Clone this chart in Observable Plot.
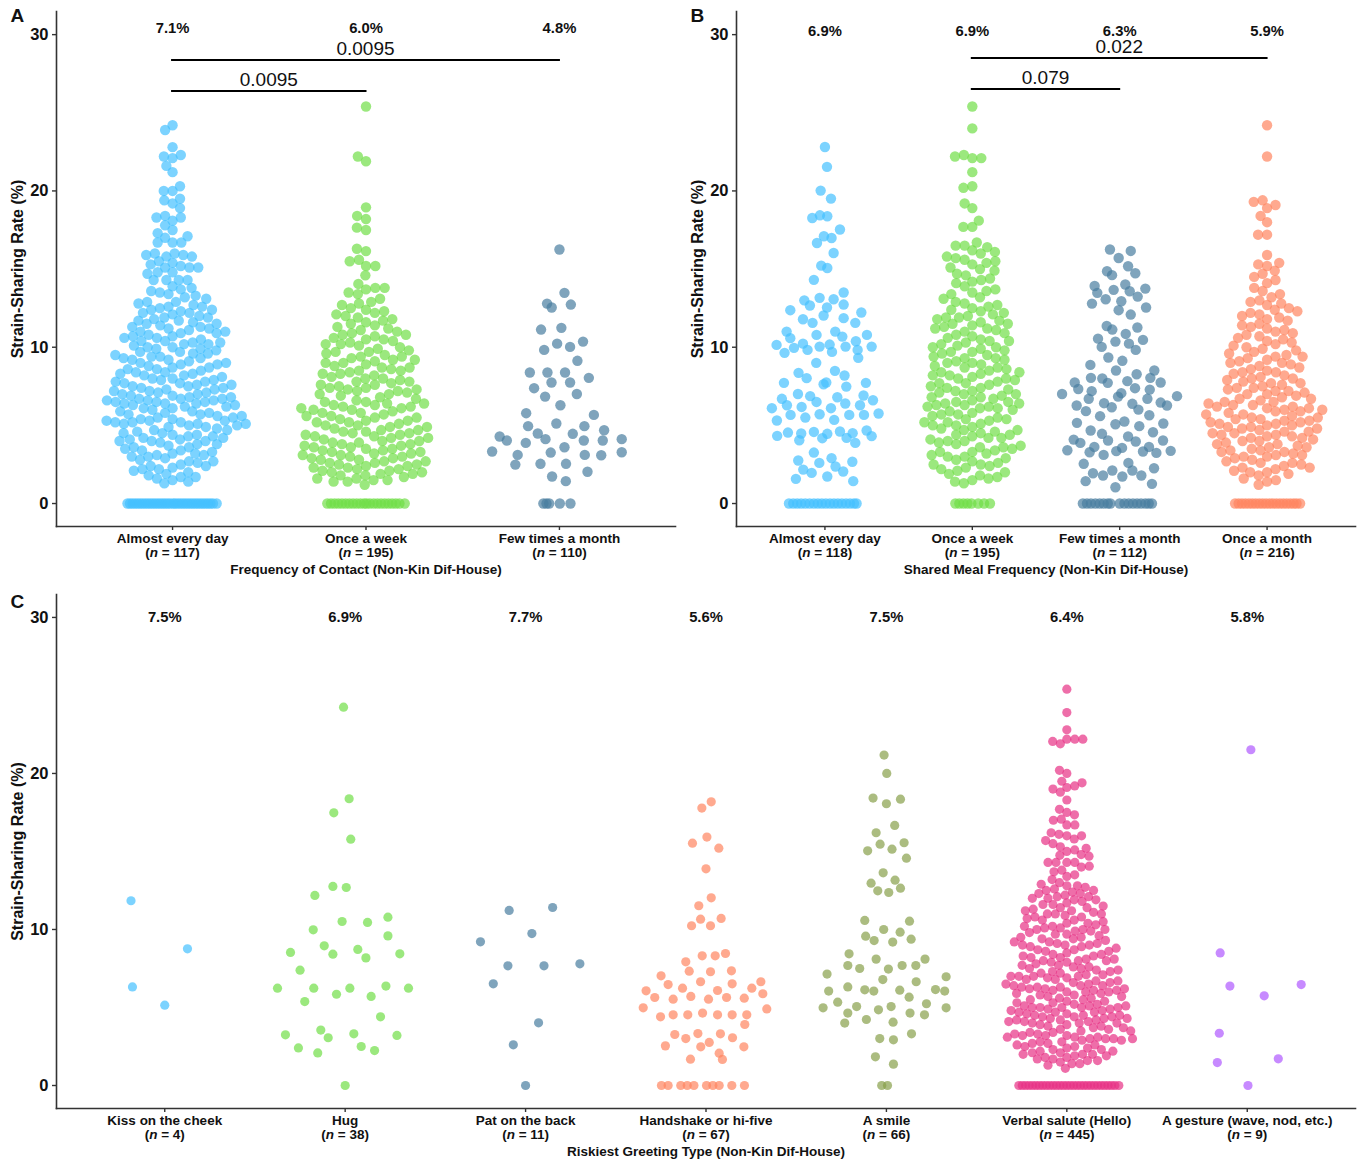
<!DOCTYPE html>
<html><head><meta charset="utf-8">
<script src="https://cdn.jsdelivr.net/npm/d3@7"></script>
<script src="https://cdn.jsdelivr.net/npm/@observablehq/plot@0.6"></script>
<style>html,body{margin:0;padding:0;background:#fff}svg{position:absolute;overflow:visible}</style>
</head><body>
<script>
// ---------- labels ----------
const catsA=["Almost every day","Once a week","Few times a month"];
const nA=[117,195,110];
const pctA=["7.1%","6.0%","4.8%"];
const catsB=["Almost every day","Once a week","Few times a month","Once a month"];
const nB=[118,195,112,216];
const pctB=["6.9%","6.9%","6.3%","5.9%"];
const catsC=["Kiss on the cheek","Hug","Pat on the back","Handshake or hi-five","A smile","Verbal salute (Hello)","A gesture (wave, nod, etc.)"];
const nC=[4,38,11,67,66,445,9];
const pctC=["7.5%","6.9%","7.7%","5.6%","7.5%","6.4%","5.8%"];

// ---------- dense groups: strain-sharing rates (swarmed by the library) ----------
const aDaily=[24.2,23.9,22.8,22.3,22.2,22.1,21.6,21.2,20.3,20,20,19.5,19.4,19.2,18.9,18.4,18.3,18.3,18.1,17.8,17.5,17.3,17.1,17,16.7,16.7,16.7,16,16,15.9,15.9,15.8,15.8,15.5,15.4,15.3,15.2,15.1,15.1,15.1,14.8,14.8,14.7,14.3,14.3,14.3,14.3,
13.9,13.8,13.7,13.6,13.5,13.4,13.3,13.2,13.1,
12.9,12.9,12.8,12.7,12.6,12.6,12.5,12.4,12.4,12.3,12.2,12.2,12.1,12,
11.9,11.9,11.8,11.7,11.7,11.6,11.5,11.5,11.4,11.3,11.3,11.2,11.2,11.1,11,11,
10.9,10.9,10.8,10.7,10.7,10.6,10.6,10.5,10.4,10.4,10.3,10.3,10.2,10.2,10.1,10,10,
9.9,9.9,9.8,9.7,9.7,9.6,9.6,9.5,9.4,9.4,9.3,9.3,9.2,9.2,9.1,9,9,
8.9,8.9,8.8,8.7,8.7,8.6,8.6,8.5,8.4,8.4,8.3,8.3,8.2,8.2,8.1,8,8,
7.9,7.9,7.8,7.8,7.7,7.7,7.6,7.6,7.5,7.5,7.4,7.4,7.3,7.3,7.2,7.2,7.1,7.1,7,7,
6.9,6.9,6.8,6.8,6.7,6.7,6.7,6.6,6.6,6.6,6.5,6.5,6.5,6.4,6.4,6.4,6.3,6.3,6.2,6.2,6.1,6.1,6,
5.9,5.9,5.8,5.8,5.7,5.7,5.6,5.6,5.5,5.5,5.4,5.4,5.3,5.3,5.3,5.2,5.2,5.2,5.1,5.1,5.1,5,5,
4.9,4.9,4.8,4.7,4.7,4.6,4.5,4.5,4.4,4.4,4.3,4.3,4.2,4.2,4.1,4.1,4,4,4,
3.9,3.8,3.8,3.7,3.6,3.6,3.5,3.4,3.4,3.3,3.2,3.2,3.1,3.1,3,3,
2.9,2.8,2.7,2.7,2.6,2.5,2.4,2.4,2.3,2.2,2.2,2.1,2,
1.9,1.8,1.7,1.7,1.6,1.5,1.4,1.3];
const aDailyZeroX=[-.233,-.22,-.207,-.194,-.181,-.168,-.155,-.142,-.129,-.116,-.103,-.09,-.077,-.064,-.051,-.038,-.025,-.012,.003,.014,.027,.04,.053,.066,.079,.092,.105,.118,.131,.144,.157,.17,.183,.196,.209,.228];

const aWeekly=[25.4,22.2,21.9,18.95,18.4,18.2,17.65,17.5,16.3,16.15,15.6,15.5,15.2,15.2,14.6,14.05,13.8,13.8,13.7,13.5,13.4,13.1,
12.9,12.8,12.7,12.5,12.4,12.3,12.2,12.1,12,
11.9,11.8,11.7,11.6,11.5,11.4,11.3,11.2,11.1,11,
10.9,10.8,10.8,10.7,10.6,10.5,10.5,10.4,10.3,10.2,10.2,10.1,10,
9.9,9.8,9.7,9.7,9.6,9.5,9.4,9.4,9.3,9.2,9.2,9.1,9,9,
8.9,8.8,8.7,8.7,8.6,8.5,8.5,8.4,8.3,8.3,8.2,8.1,8,8,
7.9,7.8,7.8,7.7,7.6,7.6,7.5,7.4,7.4,7.3,7.3,7.2,7.2,7.1,7,7,
6.9,6.8,6.7,6.6,
6.5,6.5,6.4,6.4,6.3,6.3,6.2,6.2,6.1,6.1,6,6,
5.9,5.8,5.8,5.7,5.6,5.6,5.5,5.5,5.4,5.3,5.3,5.2,5.2,5.1,5,5,
4.9,4.9,4.8,4.7,4.7,4.6,4.6,4.5,4.5,4.4,4.4,4.3,4.3,4.2,4.2,4.1,4,4,
3.9,3.9,3.8,3.8,3.7,3.7,3.6,3.6,3.5,3.5,3.4,3.4,3.3,3.3,3.2,3.2,3.1,3.1,3,3,
2.9,2.9,2.8,2.8,2.7,2.7,2.6,2.6,2.5,2.5,2.4,2.4,2.3,2.3,2.2,2.2,2.1,2.1,2,2,
1.9,1.9,1.8,1.8,1.7,1.6,1.6,1.5,1.5,1.4,1.4,1.2];
const aWeeklyZeroX=[-.2,-.181,-.162,-.143,-.124,-.105,-.086,-.067,-.048,-.029,-.01,.003,.02,.04,.059,.078,.097,.116,.135,.154,.173,.2];

const bWeekly=[25.4,24,22.3,22.2,22.1,22.1,21.2,20.3,20.2,19.2,18.9,18.1,17.7,17.7,16.7,16.5,16.5,
16.4,16.2,16.1,16,15.8,15.7,15.6,15.5,15.4,15.3,15.1,15,
14.9,14.7,14.6,14.4,14.3,14.2,14.1,
13.9,13.7,13.6,13.5,13.4,13.2,13.1,
12.9,12.8,12.7,12.6,12.5,12.4,12.3,12.2,12.1,12,
11.9,11.9,11.8,11.7,11.6,11.5,11.5,11.4,11.3,11.2,11.2,11.1,11,
10.9,10.8,10.7,10.6,10.5,10.4,10.4,10.3,10.2,10.1,10,10,
9.9,9.8,9.7,9.7,9.6,9.5,9.4,9.3,9.3,9.2,9.1,9,9,
8.9,8.8,8.7,8.7,8.6,8.5,8.4,8.4,8.3,8.2,8.2,8.1,8,8,
7.9,7.8,7.7,7.7,7.6,7.5,7.4,7.4,7.3,7.2,7.2,7.1,7,7,
6.9,6.8,6.8,6.7,6.6,6.5,6.5,6.4,6.4,6.3,6.3,6.2,6.2,6.1,6.1,6,
5.9,5.8,5.7,5.7,5.6,5.5,5.4,5.4,5.3,5.2,5.2,5.1,5,5,
4.9,4.8,4.7,4.7,4.6,4.5,4.4,4.4,4.3,4.2,4.2,4.1,4,4,
3.9,3.8,3.7,3.6,3.6,3.5,3.4,3.3,3.3,3.2,3.1,3,3,
2.9,2.8,2.7,2.6,2.5,2.5,2.4,2.3,2.2,2.1,2,
1.9,1.8,1.7,1.6,1.5,1.4,1.3];
const bWeeklyZeroX=[-.115,-.088,-.06,-.033,-.006,.04,.08,.12];

const bMonthly=[24.2,22.2,19.4,19.3,19.1,18.9,18.4,18,17.2,17.2,15.9,15.4,15.3,15.2,
14.9,14.7,14.5,14.3,14.1,13.8,13.6,13.4,13.2,13,
12.9,12.8,12.7,12.5,12.4,12.3,12.2,12.1,12,
11.9,11.8,11.7,11.5,11.4,11.3,11.2,11.1,11,
10.9,10.8,10.7,10.6,10.5,10.4,10.3,10.2,10.1,10,
9.9,9.8,9.7,9.6,9.5,9.4,9.4,9.3,9.2,9.1,9,9,
8.9,8.8,8.7,8.6,8.5,8.4,8.4,8.3,8.2,8.1,8,8,
7.9,7.8,7.7,7.7,7.6,7.5,7.4,7.4,7.3,7.2,7.2,7.1,7,7,
6.9,6.8,6.7,6.7,6.6,6.5,6.5,6.4,6.3,6.3,6.2,6.2,6.1,6.1,6,6,
5.9,5.9,5.8,5.7,5.7,5.6,5.5,5.5,5.4,5.4,5.3,5.3,5.2,5.2,5.1,5.1,5,5,
4.9,4.9,4.8,4.8,4.7,4.6,4.6,4.5,4.5,4.4,4.4,4.3,4.3,4.2,4.2,4.1,4,4,
3.9,3.8,3.8,3.7,3.6,3.6,3.5,3.4,3.4,3.3,3.3,3.2,3.1,3.1,3,3,
2.9,2.8,2.7,2.6,2.6,2.5,2.4,2.3,2.3,2.2,2.1,2,2,
1.9,1.8,1.6,1.5,1.4,1.2];
const bMonthlyZeroX=[-.217,-.193,-.17,-.147,-.123,-.1,-.077,-.053,-.03,-.007,.017,.04,.063,.087,.11,.133,.157,.18,.2,.224];

const cVerbal=[25.4,23.9,22.8,22.2,22.2,22.2,22.05,21.9,20.2,20,19.5,19.4,19.2,19.1,19,18.8,18.3,17.7,17.5,17.35,17.07,17,16.7,16.7,16.2,16.1,16,16,15.8,15.7,15.5,15.3,15.2,15.1,15,14.8,14.75,14.7,14.3,14.3,14.3,14.3,14.06,14,13.8,13.7,13.5,13.4,13.2,13,
12.9,12.8,12.8,12.7,12.6,12.5,12.5,12.4,12.3,12.3,12.2,12.1,12.1,12,12,
11.9,11.9,11.8,11.7,11.6,11.6,11.5,11.4,11.4,11.3,11.2,11.2,11.1,11,11,11,
10.9,10.8,10.8,10.7,10.6,10.6,10.5,10.4,10.4,10.3,10.2,10.2,10.1,10.1,10,10,10,
9.9,9.9,9.8,9.7,9.7,9.6,9.5,9.5,9.4,9.4,9.3,9.2,9.2,9.1,9.1,9,9,9,
8.9,8.9,8.8,8.7,8.7,8.6,8.6,8.5,8.4,8.4,8.3,8.3,8.2,8.2,8.1,8.1,8,8,8,
7.9,7.9,7.8,7.7,7.7,7.6,7.6,7.5,7.5,7.4,7.4,7.3,7.3,7.2,7.2,7.1,7.1,7,7,7,7,
6.9,6.9,6.8,6.8,6.7,6.7,6.6,6.6,6.5,6.5,6.4,6.4,6.4,6.3,6.3,6.3,6.2,6.2,6.2,6.1,6.1,6.1,6,6,6,
5.9,5.9,5.8,5.8,5.7,5.7,5.6,5.6,5.5,5.5,5.4,5.4,5.3,5.3,5.2,5.2,5.1,5.1,5.1,5,5,5,5,5,
4.9,4.9,4.8,4.8,4.7,4.7,4.7,4.6,4.6,4.5,4.5,4.5,4.4,4.4,4.4,4.3,4.3,4.3,4.2,4.2,4.2,4.1,4.1,4.1,4,4,4,
3.9,3.9,3.8,3.8,3.7,3.7,3.6,3.6,3.5,3.5,3.4,3.4,3.3,3.3,3.2,3.2,3.2,3.1,3.1,3.1,3,3,3,3,
2.9,2.9,2.8,2.8,2.7,2.7,2.6,2.6,2.5,2.5,2.4,2.4,2.3,2.3,2.2,2.2,2.1,2.1,2,2,2,
1.9,1.9,1.8,1.8,1.7,1.7,1.6,1.6,1.5,1.4,1.4,1.3,1.1];
const cVerbalZeroX=[-.266,-.247,-.228,-.209,-.19,-.171,-.152,-.133,-.114,-.095,-.076,-.057,-.038,-.019,0,.019,.038,.057,.076,.095,.114,.133,.152,.171,.19,.209,.228,.247,.266,.288];

// ---------- sparser groups: horizontal offset (share of a category step) and rate ----------
const aFewX=[0,.026,-.064,-.04,.059,-.095,.01,-.012,-.079,.055,.122,.093,-.153,-.062,.029,.152,-.041,.055,-.131,-.074,.09,.005,-.172,.178,-.016,-.162,.129,.231,-.112,.069,-.309,-.272,-.072,.126,.224,.322,-.174,-.348,.026,-.045,-.216,.131,.216,.322,-.228,-.098,.034,.145,-.038,.033,-.083,-.067,-.053,.002,.057];
const aFewY=[16.25,13.48,12.79,12.54,12.73,11.13,11.24,10.23,9.83,10.02,10.36,9.13,8.38,8.38,8.38,8.04,7.74,7.74,7.38,6.84,7.01,6.29,5.78,5.67,5.12,4.95,4.95,4.69,4.48,4.46,4.29,4.03,4.12,4.03,4.03,4.12,3.88,3.33,3.6,3.26,3.11,3.11,3.09,3.28,2.49,2.54,2.54,2.03,1.73,1.43,0,0,0,0,0];

const bDailyX=[0,.014,-.029,.041,-.086,-.034,.016,.102,-.007,.045,-.054,.059,-.025,.016,-.075,.127,-.036,-.14,.059,-.102,.127,.014,-.235,.247,-.009,-.149,.127,-.084,.206,-.26,.07,-.057,.285,.118,-.235,.21,-.328,-.149,.032,-.21,-.118,-.036,.14,.317,.222,.048,-.274,.226,-.059,.068,-.179,.133,-.124,-.278,.278,.009,-.009,.145,-.183,-.1,.262,.084,-.292,.326,-.057,-.258,.138,.238,-.36,-.158,.041,-.233,-.133,-.036,.165,.265,.364,-.326,.063,-.324,-.251,-.161,-.174,-.075,.016,-.018,.102,.188,.147,.206,.283,.317,-.075,-.181,.045,-.038,.186,-.147,.072,-.09,.124,.016,-.197,.192,
-.244,-.215,-.188,-.161,-.133,-.104,-.075,-.048,-.021,.006,.034,.061,.088,.115,.143,.17,.197,.215];
const bDailyY=[22.81,21.54,20.02,19.51,18.27,18.44,18.38,17.53,17.1,16.99,16.67,16.03,15.22,15.07,14.31,13.5,13.16,13,13.07,12.67,12.73,12.54,12.37,12.22,12.03,11.79,11.86,11.56,11.56,11,11,10.79,10.79,10.68,10.58,10.38,10.15,10.23,10.17,9.96,9.83,10.04,10.04,10.04,9.83,9.7,9.64,9.32,9,8.49,8.36,8.19,8.02,7.72,7.72,7.74,7.63,7.48,7.01,6.87,6.91,6.8,6.7,6.61,6.5,6.29,6.4,6.29,6.1,6.18,6.1,5.67,5.5,5.71,5.67,5.67,5.76,5.31,5.35,4.33,4.54,4.48,4.05,4.58,4.46,4.18,4.61,4.5,4.2,3.88,4.67,4.31,3.26,2.75,2.9,2.6,2.67,2.17,2.37,1.96,2.05,1.73,1.58,1.43,
0,0,0,0,0,0,0,0,0,0,0,0,0,0,0,0,0,0];

const bFewX=[-.066,.075,-.007,.057,-.086,-.052,.106,-.17,.038,-.152,-.041,.068,.174,.122,-.095,.011,-.188,-.007,.179,.075,-.088,-.05,.12,.041,-.147,-.029,.158,.063,-.122,.109,-.077,.018,-.199,-.025,.235,.115,.208,-.195,-.118,-.081,.052,.278,-.305,-.281,.104,.204,-.19,-.391,.389,.011,-.011,-.21,.188,-.106,.086,.278,.321,-.292,-.054,.127,-.229,.201,-.133,.032,-.029,-.29,.296,.133,-.197,.226,-.12,.057,.294,-.312,-.267,-.079,.109,-.172,.199,-.204,.016,-.023,.158,-.355,.346,.249,-.109,-.244,.059,.233,.086,-.05,-.181,.147,-.113,.018,-.231,.219,-.029,
-.25,-.222,-.195,-.165,-.136,-.109,-.081,-.063,0,.032,.061,.09,.118,.145,.174,.197,.219];
const bFewY=[16.25,16.16,15.71,15.18,14.86,14.61,14.73,13.92,14.01,13.48,13.67,13.58,13.75,13.24,13.07,12.94,12.79,12.37,12.54,12.09,11.36,11.13,11.26,10.85,10.55,10.36,10.47,10.23,10.02,9.83,9.34,9.13,8.87,8.51,8.51,8.27,8.04,8.04,8,7.72,7.83,7.74,7.74,7.33,7.38,7.29,7.19,7.01,6.87,7.06,6.84,6.7,6.7,6.42,6.38,6.46,6.27,6.27,6.16,6.01,5.91,5.65,5.59,5.25,5.07,5.16,5.12,4.95,4.67,4.56,4.46,4.29,4.03,4.09,3.88,4.03,3.97,3.62,3.62,3.28,3.56,3.35,3.33,3.41,3.37,3.24,3.11,2.54,2.6,2.26,2.11,2.11,1.94,1.79,1.79,1.73,1.43,1.26,1.04,
0,0,0,0,0,0,0,0,0,0,0,0,0,0,0,0,0];

const cKissX=[-.187,.126,-.179,0];
const cKissY=[11.84,8.76,6.32,5.15];
const cHugX=[-.009,.022,-.063,.031,-.068,.006,-.168,-.017,.124,.237,-.177,.237,-.116,.07,-.068,.115,-.303,.303,-.25,-.375,-.174,.026,.226,.351,-.048,.144,-.224,.196,-.135,-.331,-.094,.048,.287,-.259,.089,-.152,.163,0];
const cHugY=[24.25,18.38,17.48,15.79,12.76,12.69,12.18,10.51,10.45,10.79,9.98,9.59,8.95,8.72,8.42,8.18,8.53,8.44,7.39,6.24,6.24,6.24,6.37,6.24,5.85,5.71,5.38,4.4,3.55,3.25,3.06,3.31,3.21,2.41,2.5,2.09,2.24,0];
const cPatX=[-.091,.15,.035,-.25,-.098,.102,.301,-.179,.072,-.068,0];
const cPatY=[11.22,11.41,9.74,9.21,7.67,7.67,7.8,6.52,4.02,2.61,0];
const cShakeX=[.029,-.023,.005,-.075,.071,0,.029,-.04,.084,-.03,-.08,.025,.108,.051,-.021,-.112,-.093,.025,.141,-.249,-.03,.304,.145,-.21,.254,-.13,-.332,.064,.315,-.284,-.084,.114,-.182,.014,.212,-.348,.337,-.019,-.182,-.101,.064,.145,.226,-.252,.215,-.173,-.045,.08,-.112,.147,.018,-.225,-.029,.21,.073,.091,-.086,-.247,-.21,-.14,-.104,-.067,.003,.038,.073,.143,.213];
const cShakeY=[18.18,17.78,15.92,15.53,15.21,13.89,12.03,11.52,10.71,10.66,10.24,10.24,8.46,8.31,8.31,7.93,7.33,7.29,7.35,7.03,6.65,6.65,6.52,6.47,6.24,6.24,6.07,6.09,5.88,5.64,5.71,5.64,5.53,5.53,5.6,4.98,4.91,4.64,4.53,4.53,4.53,4.53,4.53,4.4,3.91,3.27,3.33,3.31,3.01,3.06,2.76,2.54,2.48,2.48,2.07,1.67,1.69,0,0,0,0,0,0,0,0,0,0];
const cSmileX=[-.013,.002,-.074,0,.078,.046,-.057,-.035,.098,.031,-.104,.111,-.018,-.085,.048,-.048,.013,.078,-.12,.128,-.015,.076,-.115,-.068,.035,.137,-.207,-.057,.214,-.214,-.148,.087,.163,.011,-.329,.331,-.02,.165,-.214,-.32,-.12,-.07,.074,.272,.323,.126,-.27,.222,-.351,-.165,.026,.331,-.044,-.214,.131,.211,-.111,.037,-.231,.139,-.037,.039,-.061,.039,-.026,.006];
const cSmileY=[21.18,20,18.42,18.06,18.35,16.67,16.2,15.47,15.56,15.15,15.04,14.57,13.63,12.97,13.16,12.48,12.37,12.65,10.58,10.53,10,9.83,9.57,9.29,9.19,9.38,8.44,8.1,8.1,7.69,7.5,7.69,7.69,7.46,7.14,6.97,6.79,6.65,6.32,6.05,6.13,6.05,6.11,6.15,6.05,5.66,5.34,5.24,4.98,5.06,5.06,4.98,4.85,4.64,4.64,4.53,4.23,4.06,4,3.31,3.01,2.93,1.84,1.37,0,0];
const cGestureX=[.02,-.15,-.096,.299,.094,-.155,-.166,.172,.004];
const cGestureY=[21.52,8.5,6.37,6.47,5.75,3.35,1.47,1.71,0];

// ---------- colours ----------
const blue="#45c0ff",green="#70de47",slate="#487ea0",salmon="#ff845f",olive="#87a04a",pink="#e73184",purple="#af59ff";

const scatter=(cat,xs,ys)=>ys.map((v,i)=>({cat,v,off:xs[i]}));
// placement order of the swarm: stepped through the list so the packing is not a lattice (values are unchanged)
const swarm=(cat,ys)=>ys.filter(v=>v>0).map((v,i)=>({cat,v,order:(i*.618034)%1})).sort((a,b)=>a.order-b.order);
const zeros=(cat,xs)=>xs.map(off=>({cat,v:0,off}));

function panel(o){
  const root=document.body;
  const rows=o.cats.map((c,i)=>({cat:c,n:o.ns[i],pct:o.pcts[i]}));
  const lab=new Map(rows.map(r=>[r.cat,r.n]));
  const style={fontFamily:"'Liberation Sans',Arial,sans-serif",fontWeight:"bold",color:"#111",background:"transparent",overflow:"visible"};
  const dims={width:o.width,height:o.height,marginLeft:o.ml,marginRight:o.mr,marginTop:o.mt,marginBottom:o.mb};
  // frame, y axis and titles
  const back=Plot.plot({...dims,style,
    y:{domain:o.yDomain,axis:null},
    marks:[
      Plot.frame({anchor:"left",stroke:"#333",strokeWidth:1.6}),
      Plot.frame({anchor:"bottom",stroke:"#333",strokeWidth:1.6}),
      Plot.axisY({anchor:"left",ticks:[0,10,20,30],tickSize:4,tickPadding:4,fontSize:16.5,stroke:"#333",strokeWidth:1.4,label:"Strain-Sharing Rate (%)",labelAnchor:"center",labelArrow:"none",labelOffset:o.labelOffset}),
      Plot.text([o.xTitle],{frameAnchor:"bottom",dy:o.xTitleDy,fontSize:13.5}),
      Plot.text([o.tag],{frameAnchor:"top-left",dx:o.tagDx,dy:o.tagDy,fontSize:19})
    ]});
  back.style.left=o.left+"px";back.style.top=o.top+"px";
  root.appendChild(back);
  d3.select(back).selectAll("text").filter(function(){return this.textContent==="Strain-Sharing Rate (%)";}).attr("font-size",16);
  // dots, category axis and shares
  const chart=Plot.plot({...dims,style,
    fx:{domain:o.cats,paddingInner:0,paddingOuter:.1,round:false,axis:null},
    x:{domain:[-.5,.5],axis:null},
    y:{domain:o.yDomain,axis:null},
    color:{domain:o.cats,range:o.colors},
    marks:[
      Plot.axisFx({anchor:"bottom",tickSize:4,tickPadding:2,fontSize:13.5,lineHeight:1.05,label:null,stroke:"#333",strokeWidth:1.4,tickFormat:c=>`${c}\n(n = ${lab.get(c)})`}),
      ...o.swarms.map(s=>Plot.dot(s.rows,Plot.dodgeX({anchor:"middle",padding:s.padding,y:"v",fx:"cat",r:o.r,fill:"cat",fillOpacity:.7}))),
      ...o.placed.map(rs=>Plot.dot(rs,{x:"off",y:"v",fx:"cat",r:o.r,fill:"cat",fillOpacity:.7})),
      Plot.text(rows,{fx:"cat",y:()=>o.pctY,text:"pct",fontSize:14.8})
    ]
  });
  chart.style.left=o.left+"px";chart.style.top=o.top+"px";
  root.appendChild(chart);
  // italic n in the category labels
  d3.select(chart).selectAll("tspan").each(function(){
    const t=this.textContent,m=t.match(/^\(n = (\d+)\)$/);
    if(m){const s=d3.select(this);s.text("(");s.append("tspan").attr("font-style","italic").text("n");s.append("tspan").text(` = ${m[1]})`);}
  });
  // significance brackets, positioned through the chart's own scales
  const fx=chart.scale("fx"),y=chart.scale("y");
  const cx=c=>fx.apply(c)+fx.bandwidth/2;
  const sel=d3.select(chart);
  for(const b of o.brackets||[]){
    const a=cx(o.cats[b.from]),e=cx(o.cats[b.to]),yy=y.apply(b.y);
    sel.append("line").attr("x1",a).attr("x2",e).attr("y1",yy).attr("y2",yy).attr("stroke","#000").attr("stroke-width",2).attr("stroke-linecap","square");
    sel.append("text").attr("x",(a+e)/2).attr("y",yy-5).attr("text-anchor","middle").attr("font-size",19).attr("font-weight","normal").attr("fill","#111").text(b.p);
  }
}

panel({cats:catsA,ns:nA,pcts:pctA,pctY:30.4,colors:[blue,green,slate],left:0,top:0,width:685,height:578,ml:56,mr:10,mt:11,mb:52,r:5.2,
  yDomain:[-1.47,31.48],labelOffset:45,xTitle:"Frequency of Contact (Non-Kin Dif-House)",xTitleDy:47,tag:"A",tagDx:-46,tagDy:-3,
  swarms:[{rows:swarm(catsA[0],aDaily),padding:-1.6},{rows:swarm(catsA[1],aWeekly),padding:-1}],
  placed:[zeros(catsA[0],aDailyZeroX),zeros(catsA[1],aWeeklyZeroX),scatter(catsA[2],aFewX,aFewY)],
  brackets:[{from:0,to:2,y:28.35,p:"0.0095"},{from:0,to:1,y:26.36,p:"0.0095"}]});
panel({cats:catsB,ns:nB,pcts:pctB,pctY:30.2,colors:[blue,green,slate,salmon],left:680,top:0,width:690,height:578,ml:56,mr:15,mt:11,mb:52,r:5.2,
  yDomain:[-1.47,31.48],labelOffset:45,xTitle:"Shared Meal Frequency (Non-Kin Dif-House)",xTitleDy:47,tag:"B",tagDx:-46,tagDy:-3,
  swarms:[{rows:swarm(catsB[1],bWeekly),padding:-1.4},{rows:swarm(catsB[3],bMonthly),padding:-1.4}],
  placed:[scatter(catsB[0],bDailyX,bDailyY),zeros(catsB[1],bWeeklyZeroX),scatter(catsB[2],bFewX,bFewY),zeros(catsB[3],bMonthlyZeroX)],
  brackets:[{from:1,to:3,y:28.47,p:"0.022"},{from:1,to:2,y:26.49,p:"0.079"}]});
panel({cats:catsC,ns:nC,pcts:pctC,pctY:30,colors:[blue,green,slate,salmon,olive,pink,purple],left:0,top:578,width:1370,height:587,ml:56,mr:15,mt:16,mb:57,r:4.6,
  yDomain:[-1.474,31.47],labelOffset:45,xTitle:"Riskiest Greeting Type (Non-Kin Dif-House)",xTitleDy:47,tag:"C",tagDx:-46,tagDy:0,
  swarms:[{rows:swarm(catsC[5],cVerbal),padding:-1.2}],
  placed:[scatter(catsC[0],cKissX,cKissY),scatter(catsC[1],cHugX,cHugY),scatter(catsC[2],cPatX,cPatY),scatter(catsC[3],cShakeX,cShakeY),scatter(catsC[4],cSmileX,cSmileY),zeros(catsC[5],cVerbalZeroX),scatter(catsC[6],cGestureX,cGestureY)]});
</script>
</body></html>
